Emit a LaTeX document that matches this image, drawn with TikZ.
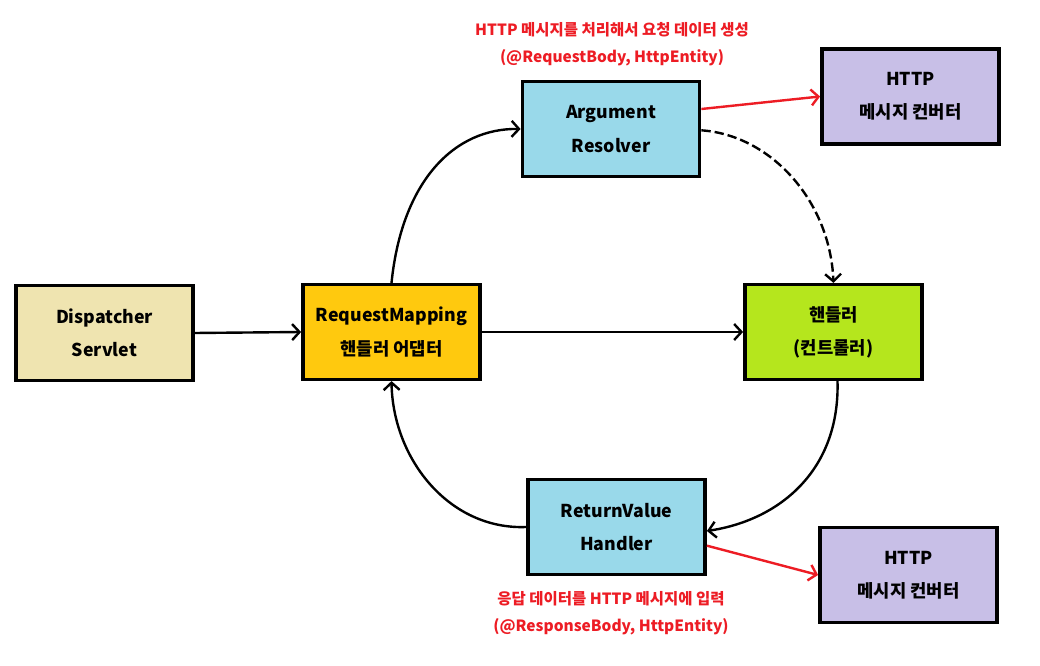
\documentclass[tikz,border=0pt]{standalone}
\usepackage{fontspec}
\setmainfont{Noto Sans CJK KR}
\usetikzlibrary{arrows.meta}
\definecolor{dsfill}{HTML}{EFE4B0}
\definecolor{rmfill}{HTML}{FFC90E}
\definecolor{arfill}{HTML}{99D9EA}
\definecolor{hdfill}{HTML}{B5E61D}
\definecolor{cvfill}{HTML}{C8BFE7}
\definecolor{lblred}{HTML}{ED1C24}
\tikzset{
  box/.style={draw=black, line width=2.6pt, minimum width=133pt, minimum height=71pt, inner sep=0pt,
    align=center, font=\bfseries\fontsize{13.3}{25}\selectfont},
  conn/.style={line width=1.8pt, -{Straight Barb[length=5.5pt,width=12pt,line width=1.8pt]}},
  redconn/.style={conn, draw=lblred},
  redlbl/.style={text=lblred, align=center, font=\bfseries\fontsize{11.6}{20}\selectfont}
}
\begin{document}
\begin{tikzpicture}[x=0.75pt,y=-0.75pt]
\path[fill=white] (0,0) rectangle (1040,666);
\useasboundingbox (0,0) rectangle (1040,666);
\node[box, fill=dsfill] (ds) at (104.5,333) {Dispatcher\\Servlet};
\node[box, fill=rmfill] (rm) at (391.5,332) {RequestMapping\\핸들러 어댑터};
\node[box, fill=arfill] (ar) at (611,129) {Argument\\Resolver};
\node[box, fill=hdfill] (hd) at (833.5,332) {핸들러\\(컨트롤러)};
\node[box, fill=arfill] (rv) at (616.5,527) {ReturnValue\\Handler};
\node[box, fill=cvfill] (cv1) at (910.5,96.5) {HTTP\\메시지 컨버터};
\node[box, fill=cvfill] (cv2) at (908.5,575) {HTTP\\메시지 컨버터};
\node[redlbl] (lbl1) at (612,44) {HTTP 메시지를 처리해서 요청 데이터 생성\\(@RequestBody, HttpEntity)};
\node[redlbl] (lbl2) at (611,613) {응답 데이터를 HTTP 메시지에 입력\\(@ResponseBody, HttpEntity)};
\draw[conn] (ds.east) -- (rm.west);
\draw[conn] (rm.east) -- (hd.west);
\draw[conn] (rm.north) .. controls (402,180) and (455,128) .. (ar.west);
\draw[conn, dash pattern=on 7pt off 3pt] ([yshift=-1pt]ar.east) .. controls (770,135) and (830,200) .. (hd.north);
\draw[conn] ([xshift=3pt]hd.south) .. controls (840,470) and (780,520) .. ([yshift=-3pt]rv.east);
\draw[conn] (rv.west) .. controls (450,530) and (393,460) .. (rm.south);
\draw[redconn] ([yshift=15pt]ar.east) -- (cv1.west);
\draw[redconn] ([yshift=-14pt]rv.east) -- (cv2.west);
\end{tikzpicture}
\end{document}
